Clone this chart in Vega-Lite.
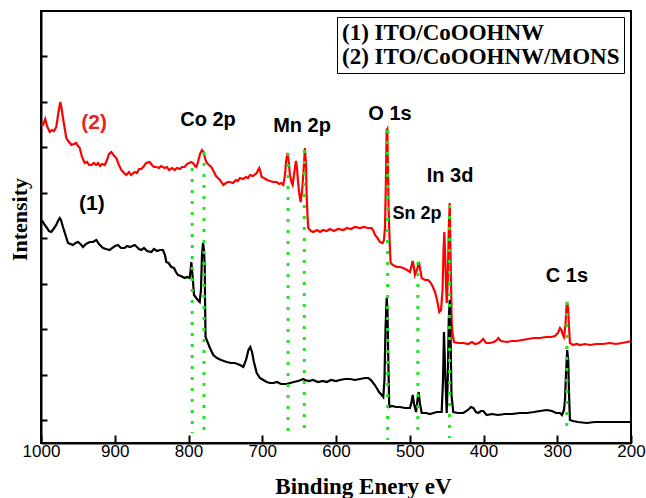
{
"$schema": "https://vega.github.io/schema/vega-lite/v6.json",
"width": 590, "height": 432,
"autosize": {"type": "none"},
"padding": {"left": 41, "top": 11, "right": 15, "bottom": 55},
"background": "white",
"config": {"view": {"stroke": "black", "strokeWidth": 2}, "axis": {"grid": false}},
"datasets": {
"red": [
{"be":1000,"i":318},{"be":997.3,"i":318},{"be":994.2,"i":324},{"be":991.9,"i":317},{"be":988.2,"i":311},{"be":985.1,"i":313},{"be":982.4,"i":312},{"be":979.3,"i":316},{"be":976.3,"i":331},{"be":973.8,"i":341},{"be":972.2,"i":335},{"be":970.2,"i":325},{"be":967.5,"i":313},{"be":965.7,"i":305},{"be":962.0,"i":301},{"be":958.9,"i":298},{"be":955.3,"i":299},{"be":952.5,"i":300},{"be":949.8,"i":297},{"be":947.5,"i":295},{"be":944.4,"i":286},{"be":940.7,"i":280},{"be":937.6,"i":281},{"be":934.9,"i":278},{"be":931.8,"i":278},{"be":928.1,"i":280},{"be":925.4,"i":278},{"be":922.7,"i":280},{"be":920.0,"i":277},{"be":917.3,"i":279},{"be":913.6,"i":278},{"be":910.5,"i":283},{"be":907.8,"i":289},{"be":904.7,"i":291},{"be":901.7,"i":288},{"be":897.9,"i":285},{"be":894.9,"i":279},{"be":891.1,"i":273},{"be":887.5,"i":270},{"be":884.3,"i":268},{"be":880.7,"i":271},{"be":878.0,"i":268},{"be":872.9,"i":271},{"be":869.8,"i":270},{"be":867.1,"i":274},{"be":864.0,"i":274},{"be":860.3,"i":277},{"be":857.6,"i":280},{"be":852.6,"i":281},{"be":849.5,"i":278},{"be":846.8,"i":276},{"be":843.7,"i":276},{"be":840.0,"i":275},{"be":837.3,"i":277},{"be":832.3,"i":275},{"be":829.2,"i":276},{"be":826.4,"i":273},{"be":822.4,"i":275},{"be":818.7,"i":273},{"be":815.6,"i":275},{"be":811.5,"i":274},{"be":808.8,"i":276},{"be":805.2,"i":276},{"be":802.0,"i":279},{"be":799.3,"i":280},{"be":796.2,"i":281},{"be":793.9,"i":280},{"be":791.2,"i":277},{"be":789.4,"i":276},{"be":787.1,"i":281},{"be":784.4,"i":289},{"be":781.7,"i":293},{"be":779.7,"i":291},{"be":777.6,"i":285},{"be":775.9,"i":281},{"be":773.6,"i":279},{"be":769.1,"i":276},{"be":765.4,"i":271},{"be":762.7,"i":267},{"be":760.0,"i":265},{"be":757.3,"i":263},{"be":752.8,"i":258},{"be":749.2,"i":260},{"be":746.4,"i":261},{"be":743.7,"i":261},{"be":739.7,"i":260},{"be":735.6,"i":263},{"be":732.9,"i":262},{"be":730.2,"i":265},{"be":726.1,"i":264},{"be":722.0,"i":266},{"be":719.3,"i":265},{"be":716.6,"i":268},{"be":712.6,"i":267},{"be":707.5,"i":270},{"be":705.7,"i":273},{"be":704.0,"i":275},{"be":702.4,"i":271},{"be":700.8,"i":266},{"be":697.6,"i":265},{"be":693.6,"i":263},{"be":689.5,"i":262},{"be":685.4,"i":261},{"be":680.4,"i":261},{"be":677.3,"i":259},{"be":674.6,"i":260},{"be":671.5,"i":258},{"be":669.2,"i":268},{"be":667.8,"i":281},{"be":666.0,"i":290},{"be":664.4,"i":283},{"be":662.4,"i":268},{"be":660.4,"i":261},{"be":658.8,"i":258},{"be":657.0,"i":268},{"be":654.3,"i":282},{"be":652.9,"i":275},{"be":651.1,"i":258},{"be":649.5,"i":248},{"be":647.9,"i":241},{"be":646.1,"i":251},{"be":644.4,"i":268},{"be":642.1,"i":295},{"be":640.7,"i":278},{"be":639.8,"i":248},{"be":638.7,"i":228},{"be":637.6,"i":215},{"be":633.9,"i":212},{"be":630.8,"i":211},{"be":625.8,"i":213},{"be":621.7,"i":211},{"be":617.6,"i":213},{"be":612.6,"i":212},{"be":608.2,"i":214},{"be":602.7,"i":212},{"be":597.3,"i":214},{"be":590.1,"i":213},{"be":585.1,"i":215},{"be":579.7,"i":214},{"be":574.3,"i":216},{"be":567.5,"i":215},{"be":562.1,"i":216},{"be":556.6,"i":215},{"be":551.6,"i":215},{"be":549.2,"i":212},{"be":547.1,"i":208},{"be":543.8,"i":205},{"be":540.4,"i":201},{"be":536.7,"i":200},{"be":535.0,"i":203},{"be":533.6,"i":215},{"be":532.3,"i":263},{"be":531.3,"i":313},{"be":530.5,"i":314},{"be":529.5,"i":273},{"be":528.6,"i":233},{"be":527.8,"i":213},{"be":526.8,"i":193},{"be":525.9,"i":180},{"be":522.8,"i":178},{"be":517.7,"i":176},{"be":513.2,"i":176},{"be":508.7,"i":175},{"be":503.7,"i":173},{"be":499.7,"i":171},{"be":497.6,"i":177},{"be":496.0,"i":182},{"be":494.2,"i":175},{"be":492.9,"i":168},{"be":490.2,"i":173},{"be":487.5,"i":181},{"be":485.7,"i":173},{"be":483.8,"i":165},{"be":479.3,"i":163},{"be":475.2,"i":163},{"be":472.5,"i":161},{"be":469.8,"i":158},{"be":465.7,"i":151},{"be":463.0,"i":143},{"be":459.9,"i":131},{"be":457.6,"i":133},{"be":455.5,"i":153},{"be":454.2,"i":193},{"be":453.1,"i":211},{"be":451.8,"i":183},{"be":449.9,"i":140},{"be":448.4,"i":163},{"be":447.1,"i":213},{"be":445.8,"i":240},{"be":444.8,"i":193},{"be":443.1,"i":120},{"be":441.8,"i":108},{"be":440.0,"i":101},{"be":434.6,"i":100},{"be":427.4,"i":100},{"be":421.0,"i":99},{"be":415.6,"i":101},{"be":411.5,"i":99},{"be":406.1,"i":100},{"be":403.4,"i":102},{"be":400.3,"i":104},{"be":396.6,"i":100},{"be":391.2,"i":100},{"be":385.8,"i":101},{"be":381.7,"i":103},{"be":380.0,"i":105},{"be":376.3,"i":102},{"be":368.6,"i":101},{"be":361.4,"i":102},{"be":355.0,"i":102},{"be":347.8,"i":103},{"be":339.7,"i":104},{"be":331.5,"i":105},{"be":323.4,"i":105},{"be":315.3,"i":106},{"be":308.5,"i":106},{"be":303.1,"i":107},{"be":299.0,"i":110},{"be":296.3,"i":115},{"be":294.3,"i":113},{"be":292.3,"i":108},{"be":290.9,"i":106},{"be":288.9,"i":118},{"be":287.6,"i":135},{"be":286.5,"i":141},{"be":285.1,"i":133},{"be":284.2,"i":118},{"be":282.8,"i":100},{"be":278.8,"i":98},{"be":273.3,"i":99},{"be":269.2,"i":98},{"be":262.4,"i":99},{"be":255.6,"i":98},{"be":247.5,"i":99},{"be":238.0,"i":99},{"be":228.5,"i":100},{"be":220.4,"i":99},{"be":212.2,"i":100},{"be":205.5,"i":101},{"be":200,"i":102}
],
"black": [
{"be":1000,"i":223},{"be":997.3,"i":221},{"be":995.0,"i":218},{"be":991.9,"i":215},{"be":989.2,"i":212},{"be":986.0,"i":211},{"be":983.1,"i":214},{"be":979.3,"i":218},{"be":977.0,"i":222},{"be":974.6,"i":225},{"be":972.9,"i":223},{"be":970.2,"i":216},{"be":966.8,"i":208},{"be":963.4,"i":200},{"be":960.0,"i":199},{"be":956.6,"i":198},{"be":953.2,"i":200},{"be":949.8,"i":201},{"be":946.4,"i":199},{"be":943.1,"i":196},{"be":939.0,"i":199},{"be":934.0,"i":201},{"be":929.5,"i":201},{"be":925.0,"i":203},{"be":921.4,"i":199},{"be":915.9,"i":195},{"be":911.9,"i":194},{"be":906.8,"i":193},{"be":903.7,"i":195},{"be":899.7,"i":197},{"be":895.6,"i":198},{"be":891.5,"i":195},{"be":886.5,"i":195},{"be":883.4,"i":197},{"be":879.3,"i":196},{"be":872.9,"i":198},{"be":869.8,"i":196},{"be":867.1,"i":194},{"be":864.0,"i":193},{"be":860.3,"i":195},{"be":856.3,"i":192},{"be":850.4,"i":191},{"be":846.8,"i":194},{"be":842.7,"i":192},{"be":838.6,"i":193},{"be":834.6,"i":193},{"be":831.9,"i":188},{"be":830.1,"i":181},{"be":827.1,"i":180},{"be":823.3,"i":176},{"be":819.7,"i":175},{"be":817.0,"i":171},{"be":814.2,"i":168},{"be":810.2,"i":167},{"be":805.2,"i":165},{"be":802.0,"i":166},{"be":798.4,"i":165},{"be":797.1,"i":173},{"be":796.2,"i":181},{"be":794.9,"i":171},{"be":792.5,"i":148},{"be":788.5,"i":144},{"be":784.8,"i":141},{"be":783.1,"i":153},{"be":781.7,"i":188},{"be":780.3,"i":200},{"be":779.0,"i":193},{"be":778.0,"i":176},{"be":777.6,"i":143},{"be":776.9,"i":106},{"be":773.6,"i":100},{"be":770.9,"i":95},{"be":766.4,"i":88},{"be":761.3,"i":85},{"be":755.9,"i":83},{"be":748.2,"i":81},{"be":742.4,"i":80},{"be":736.9,"i":80},{"be":730.2,"i":78},{"be":725.7,"i":76},{"be":722.0,"i":83},{"be":718.7,"i":93},{"be":716.2,"i":96},{"be":713.9,"i":91},{"be":711.3,"i":81},{"be":707.5,"i":70},{"be":703.1,"i":65},{"be":698.6,"i":63},{"be":694.0,"i":61},{"be":689.5,"i":60},{"be":685.0,"i":60},{"be":680.0,"i":61},{"be":674.6,"i":59},{"be":666.9,"i":59},{"be":662.4,"i":60},{"be":657.0,"i":61},{"be":651.5,"i":62},{"be":647.5,"i":63},{"be":644.4,"i":64},{"be":642.1,"i":63},{"be":636.6,"i":62},{"be":631.2,"i":63},{"be":624.4,"i":61},{"be":617.6,"i":62},{"be":612.6,"i":61},{"be":606.8,"i":63},{"be":600.0,"i":62},{"be":594.6,"i":63},{"be":587.8,"i":64},{"be":581.0,"i":64},{"be":574.3,"i":63},{"be":567.5,"i":64},{"be":560.7,"i":65},{"be":556.2,"i":65},{"be":552.6,"i":63},{"be":548.5,"i":59},{"be":544.8,"i":55},{"be":541.7,"i":51},{"be":538.0,"i":48},{"be":535.9,"i":46},{"be":534.3,"i":63},{"be":532.9,"i":113},{"be":531.3,"i":145},{"be":530.2,"i":133},{"be":529.1,"i":83},{"be":527.8,"i":36},{"be":524.1,"i":37},{"be":518.7,"i":36},{"be":513.2,"i":36},{"be":506.5,"i":35},{"be":499.7,"i":35},{"be":497.6,"i":41},{"be":496.0,"i":48},{"be":494.2,"i":39},{"be":491.5,"i":31},{"be":489.5,"i":43},{"be":487.9,"i":51},{"be":486.1,"i":39},{"be":483.8,"i":30},{"be":478.0,"i":30},{"be":472.5,"i":29},{"be":468.0,"i":30},{"be":463.0,"i":31},{"be":456.7,"i":31},{"be":454.9,"i":63},{"be":453.6,"i":111},{"be":452.0,"i":73},{"be":449.9,"i":30},{"be":448.4,"i":63},{"be":447.1,"i":123},{"be":445.8,"i":143},{"be":444.6,"i":103},{"be":443.4,"i":48},{"be":441.0,"i":31},{"be":434.6,"i":30},{"be":427.4,"i":30},{"be":421.0,"i":33},{"be":417.0,"i":36},{"be":413.8,"i":35},{"be":410.2,"i":31},{"be":407.1,"i":30},{"be":403.4,"i":32},{"be":400.3,"i":32},{"be":395.7,"i":28},{"be":388.5,"i":29},{"be":380.4,"i":28},{"be":370.9,"i":29},{"be":361.4,"i":29},{"be":350.5,"i":30},{"be":341.0,"i":30},{"be":331.5,"i":31},{"be":323.4,"i":32},{"be":314.3,"i":33},{"be":307.1,"i":32},{"be":301.7,"i":30},{"be":296.3,"i":30},{"be":293.6,"i":28},{"be":290.9,"i":33},{"be":289.5,"i":43},{"be":288.2,"i":68},{"be":286.5,"i":93},{"be":285.1,"i":83},{"be":284.2,"i":53},{"be":282.8,"i":23},{"be":278.8,"i":22},{"be":272.0,"i":21},{"be":260.1,"i":20},{"be":248.9,"i":21},{"be":238.0,"i":21},{"be":225.8,"i":21},{"be":214.9,"i":21},{"be":200,"i":21}
],
"green": [
{"be":795,"top":275,"bot":10},{"be":779,"top":291,"bot":10},{"be":665,"top":290,"bot":8},{"be":643,"top":293,"bot":8},{"be":530,"top":313,"bot":3},{"be":489,"top":181,"bot":11},{"be":446,"top":238,"bot":5},{"be":287,"top":141,"bot":10}
],
"peaks": [
{"be":773.6,"i":323.5,"t":"Co 2p"},{"be":646,"i":317,"t":"Mn 2p"},{"be":526.8,"i":329.5,"t":"O 1s"},{"be":445.4,"i":267,"t":"In 3d"},{"be":286.8,"i":167.5,"t":"C 1s"}
],
"small": [
{"be":490.2,"i":229.5,"t":"Sn 2p"}
],
"series": [
{"be":928,"i":320,"t":"(2)"},{"be":931,"i":239,"t":"(1)"}
]
},
"layer": [
{
"data": {"name": "red"},
"mark": {"type": "line", "strokeWidth": 2.2},
"encoding": {
"x": {"field": "be", "type": "quantitative",
"scale": {"domain": [200, 1000], "reverse": true, "nice": false, "zero": false},
"axis": {"values": [1000,950,900,850,800,750,700,650,600,550,500,450,400,350,300,250,200],
"format": "d",
"labelExpr": "datum.value % 100 === 0 ? datum.label : ''",
"tickSize": {"condition": {"test": "datum.value % 100 === 0", "value": -8}, "value": -5},
"tickWidth": 2, "tickColor": "black",
"domainColor": "black", "domainWidth": 2,
"labelFont": "Liberation Sans", "labelFontSize": 17, "labelColor": "black", "labelPadding": 8,
"labelFlush": false, "labelOverlap": false,
"title": "Binding Enery eV", "titleFont": "Liberation Serif", "titleFontSize": 23, "titleFontWeight": "bold", "titleColor": "black",
"titleX": 322, "titleY": 50, "titleBaseline": "alphabetic", "titleAlign": "center"}},
"y": {"field": "i", "type": "quantitative",
"scale": {"domain": [0, 432], "nice": false, "zero": false},
"axis": {"values": [22.7,45.5,68.2,91.0,113.7,136.4,159.2,181.9,204.7,227.4,250.1,272.9,295.6,318.4,341.1,363.8,386.6,409.3],
"tickSize": {"condition": {"test": "round(datum.value / 22.74) % 2 === 0", "value": -10}, "value": -6},
"tickWidth": 2, "tickColor": "black", "labels": false,
"domainColor": "black", "domainWidth": 2,
"title": "Intensity", "titleFont": "Liberation Serif", "titleFontSize": 22, "titleFontWeight": "bold", "titleColor": "black",
"titleX": -15, "titleY": 208, "titleAngle": 270, "titleAlign": "center", "titleBaseline": "alphabetic"}},
"color": {"datum": "(2) ITO/CoOOHNW/MONS", "type": "nominal",
"scale": {"domain": ["(1) ITO/CoOOHNW", "(2) ITO/CoOOHNW/MONS"], "range": ["#000000", "#ff0000"]},
"legend": {"title": null, "orient": "none", "legendX": 296, "legendY": 6, "direction": "vertical", "columns": 1,
"labelFont": "Liberation Serif", "labelFontWeight": "bold", "labelFontSize": 23, "labelColor": "black", "labelLimit": 600, "labelAlign": "left",
"symbolType": "square", "symbolSize": 1, "symbolStrokeWidth": 0, "symbolOpacity": 0, "labelOffset": -22,
"padding": 4, "rowPadding": 0, "strokeColor": "black", "fillColor": "white"}}
}
},
{
"data": {"name": "black"},
"mark": {"type": "line", "strokeWidth": 2.2},
"encoding": {
"x": {"field": "be", "type": "quantitative"},
"y": {"field": "i", "type": "quantitative"},
"color": {"datum": "(1) ITO/CoOOHNW", "type": "nominal"}
}
},
{
"data": {"name": "green"},
"mark": {"type": "rule", "color": "#1ee61e", "strokeWidth": 3, "strokeDash": [3, 8]},
"encoding": {
"x": {"field": "be", "type": "quantitative"},
"y": {"field": "top", "type": "quantitative"},
"y2": {"field": "bot"}
}
},
{
"data": {"name": "peaks"},
"mark": {"type": "text", "font": "Liberation Sans", "fontWeight": "bold", "fontSize": 20, "align": "center", "baseline": "middle", "color": "black"},
"encoding": {
"x": {"field": "be", "type": "quantitative"},
"y": {"field": "i", "type": "quantitative"},
"text": {"field": "t"}
}
},
{
"data": {"name": "small"},
"mark": {"type": "text", "font": "Liberation Sans", "fontWeight": "bold", "fontSize": 18, "align": "center", "baseline": "middle", "color": "black"},
"encoding": {
"x": {"field": "be", "type": "quantitative"},
"y": {"field": "i", "type": "quantitative"},
"text": {"field": "t"}
}
},
{
"data": {"name": "series"},
"mark": {"type": "text", "font": "Liberation Sans", "fontWeight": "bold", "fontSize": 21, "align": "center", "baseline": "middle"},
"encoding": {
"x": {"field": "be", "type": "quantitative"},
"y": {"field": "i", "type": "quantitative"},
"text": {"field": "t"},
"color": {"condition": {"test": "datum.t === '(2)'", "value": "#e8231e"}, "value": "black"}
}
}
]
}
